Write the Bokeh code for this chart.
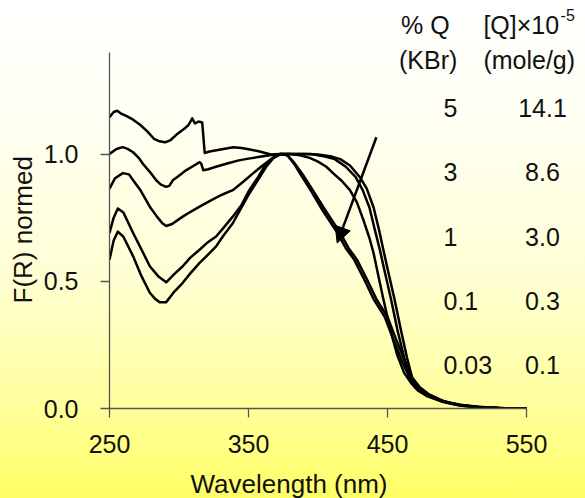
from bokeh.plotting import figure
from bokeh.models import (Range1d, FixedTicker, Label, Arrow, NormalHead, Title,
                          GlobalInlineStyleSheet, NumeralTickFormatter)
from bokeh.embed import file_html
from bokeh.resources import INLINE

# ---------------- data ----------------
wl_5 = [250, 253, 255.5, 258, 262, 267, 272, 277, 282, 286, 290, 294, 299, 304, 307, 309.5, 311.5, 314,
        316.7, 317.5, 318.5, 322, 328, 334, 339, 345, 351, 358, 366, 373, 380, 390, 400, 410, 416, 423,
        430, 435, 440, 444, 447, 450, 455, 460, 464, 468, 472, 478, 485, 495, 505, 520, 535, 550]
fr_5 = [1.145, 1.165, 1.17, 1.16, 1.15, 1.135, 1.115, 1.09, 1.06, 1.05, 1.046, 1.055, 1.08, 1.10, 1.115,
        1.14, 1.12, 1.128, 1.124, 1.07, 1.004, 1.01, 1.016, 1.022, 1.027, 1.024, 1.018, 1.01, 0.998, 1.0,
        1.0, 1.0, 0.998, 0.99, 0.98, 0.955, 0.91, 0.865, 0.79, 0.70, 0.624, 0.55, 0.43, 0.30, 0.20, 0.115,
        0.078, 0.055, 0.038, 0.022, 0.012, 0.004, 0.001, 0.0]

wl_3 = [250, 255, 259.6, 263, 267, 271, 274, 279, 283.6, 287, 290.8, 293, 295.6, 300, 305, 310, 314.8,
        316, 317.5, 321, 326, 334, 343, 350, 357, 365, 373, 380, 388, 395, 405, 412, 420, 427, 432, 437,
        441, 444.5, 447.5, 452.5, 457.5, 462, 466, 470, 478, 485, 495, 505, 520, 535, 550]
fr_3 = [1.0, 1.02, 1.027, 1.02, 1.007, 0.985, 0.962, 0.93, 0.897, 0.88, 0.871, 0.875, 0.897, 0.915, 0.936,
        0.952, 0.968, 0.962, 0.936, 0.94, 0.949, 0.962, 0.975, 0.982, 0.988, 0.995, 1.0, 1.0, 1.0, 1.0,
        0.99, 0.98, 0.95, 0.91, 0.86, 0.79, 0.70, 0.624, 0.55, 0.43, 0.30, 0.20, 0.12, 0.082, 0.055, 0.038,
        0.02, 0.01, 0.004, 0.001, 0.0]

wl_1 = [250, 254, 259.6, 264, 267, 272, 279, 284, 288, 290.8, 295, 302.7, 308, 314.8, 322, 330, 338.7,
        346, 353, 359, 365, 369, 373, 380, 387, 394, 400, 406, 411, 417, 423, 428, 432.7, 437, 440, 443.5,
        447, 452, 457, 462, 467, 472, 478, 490, 502, 515, 530, 550]
fr_1 = [0.864, 0.905, 0.925, 0.92, 0.897, 0.86, 0.793, 0.755, 0.728, 0.717, 0.725, 0.754, 0.772, 0.793,
        0.815, 0.838, 0.858, 0.89, 0.923, 0.95, 0.975, 0.99, 1.0, 1.0, 0.995, 0.985, 0.97, 0.95, 0.924,
        0.895, 0.858, 0.81, 0.74, 0.67, 0.61, 0.52, 0.43, 0.31, 0.21, 0.14, 0.10, 0.07, 0.05, 0.028, 0.015,
        0.007, 0.002, 0.0]

wl_01 = [250, 253, 256, 260, 267, 273, 279, 285, 290.8, 296, 302.7, 308, 314.8, 320, 326.7, 332, 338.7,
         345, 350.6, 357, 362.6, 368, 373, 378, 383, 389, 396, 404, 410, 416, 422, 428, 435, 442, 450,
         457, 463, 468, 473, 480, 490, 502, 515, 530, 550]
fr_01 = [0.69, 0.75, 0.786, 0.77, 0.69, 0.625, 0.559, 0.52, 0.496, 0.525, 0.559, 0.592, 0.624, 0.65,
         0.676, 0.71, 0.754, 0.80, 0.858, 0.91, 0.962, 0.985, 1.0, 0.995, 0.965, 0.92, 0.86, 0.79, 0.74,
         0.69, 0.63, 0.585, 0.51, 0.43, 0.36, 0.26, 0.18, 0.12, 0.085, 0.055, 0.03, 0.014, 0.006, 0.002, 0.0]

wl_003 = [250, 253, 256, 260, 267, 273, 279, 283, 286, 290.8, 296, 302.7, 308, 314.8, 320, 326.7, 332,
          338.7, 345, 350.6, 357, 362.6, 368, 373, 378, 383, 387, 395, 402, 408, 414, 420, 426, 433, 440,
          448, 455, 461, 466, 470, 478, 490, 502, 515, 530, 550]
fr_003 = [0.585, 0.66, 0.695, 0.675, 0.598, 0.52, 0.455, 0.43, 0.418, 0.418, 0.455, 0.494, 0.53, 0.572,
          0.60, 0.637, 0.68, 0.728, 0.79, 0.845, 0.90, 0.949, 0.985, 1.0, 0.995, 0.96, 0.924, 0.855, 0.79,
          0.74, 0.69, 0.63, 0.585, 0.51, 0.43, 0.36, 0.26, 0.18, 0.12, 0.085, 0.05, 0.025, 0.012, 0.006,
          0.002, 0.0]

x_ticks = [250, 350, 450, 550]
y_ticks = [0.0, 0.5, 1.0]
y_tick_labels = ["0.0", "0.5", "1.0"]
x_axis_span = (250, 550)
y_axis_span = (0.0, 1.4)

pct_q = ["5", "3", "1", "0.1", "0.03"]
conc_q = ["14.1", "8.6", "3.0", "0.3", "0.1"]
row_y = [1.182, 0.929, 0.674, 0.422, 0.169]

arrow_from = (442, 1.066)
arrow_to = (413.8, 0.65)

# ---------------- layout (pixels) ----------------
W, H = 585, 498
LEFT, BOTTOM = 109, 88          # frame extends to the right and top edges
AX_W, AX_H = 417, 358           # pixel length of the drawn axes
x_end = x_axis_span[0] + (W - LEFT) * (x_axis_span[1] - x_axis_span[0]) / AX_W
y_end = y_axis_span[0] + (H - BOTTOM) * (y_axis_span[1] - y_axis_span[0]) / AX_H

FONT = "Liberation Sans"
p = figure(width=W, height=H, x_range=Range1d(x_axis_span[0], x_end), y_range=Range1d(y_axis_span[0], y_end),
           output_backend="svg", toolbar_location=None,
           min_border_left=LEFT, min_border_right=0, min_border_top=0, min_border_bottom=BOTTOM)
p.background_fill_color = None
p.border_fill_color = None
p.outline_line_color = None
p.grid.visible = False
p.stylesheets = [GlobalInlineStyleSheet(css=(
    "html{height:100%;background:linear-gradient(to bottom,#ffffff 0%,#fffff2 25%,"
    "#ffffd4 55%,#ffffa0 80%,#ffff66 100%);}"
    "body{margin:0;padding:0;overflow:hidden;background:transparent;}"))]

for ax in (p.xaxis[0], p.yaxis[0]):
    ax.axis_line_color = "#555555"
    ax.axis_line_width = 1.3
    ax.major_tick_line_color = "#555555"
    ax.major_tick_line_width = 1.3
    ax.major_tick_out = 9
    ax.major_tick_in = 0
    ax.minor_tick_out = 0
    ax.minor_tick_in = 0
    ax.major_label_text_font = FONT
    ax.major_label_text_font_size = "25px"
    ax.major_label_text_color = "#111111"

p.xaxis.major_label_standoff = 17
p.yaxis.major_label_standoff = 22
p.xaxis.bounds = x_axis_span
p.yaxis.bounds = y_axis_span
p.xaxis.ticker = FixedTicker(ticks=x_ticks)
p.yaxis.ticker = FixedTicker(ticks=y_ticks)
p.yaxis.formatter = NumeralTickFormatter(format="0.0")
p.yaxis.major_label_overrides = {t: l for t, l in zip(y_ticks, y_tick_labels)}
# axis label is centred on the (taller) frame: non-breaking spaces re-centre it on the drawn axis
p.yaxis.axis_label = "F(R) normed" + "\u00a0" * 7
p.yaxis.axis_label_text_font = FONT
p.yaxis.axis_label_text_font_size = "26px"
p.yaxis.axis_label_text_font_style = "normal"
p.yaxis.axis_label_text_color = "#111111"
p.yaxis.axis_label_standoff = 3

# invisible spacer under the x tick labels, pushes the title panel a few pixels lower
p.xaxis.axis_label = "\u00a0"
p.xaxis.axis_label_text_font_size = "6px"
p.xaxis.axis_label_text_alpha = 0
p.xaxis.axis_label_standoff = 2

p.add_layout(Title(text="Wavelength (nm)", align="left", offset=81, text_font=FONT,
                   text_font_size="26px", text_font_style="normal", text_color="#111111",
                   standoff=0), "below")

for xs, ys in [(wl_5, fr_5), (wl_3, fr_3), (wl_1, fr_1), (wl_01, fr_01), (wl_003, fr_003)]:
    p.line(xs, ys, line_color="black", line_width=2.5, line_join="round")

p.add_layout(Arrow(end=NormalHead(size=16, fill_color="black", line_color="black", line_width=1),
                   x_start=arrow_from[0], y_start=arrow_from[1], x_end=arrow_to[0], y_end=arrow_to[1],
                   line_width=2.5, line_color="black"))


def lab(x, y, text, size="25px", align="left"):
    p.add_layout(Label(x=x, y=y, text=text, text_font=FONT, text_font_size=size,
                       text_color="#111111", text_align=align, text_baseline="alphabetic"))


lab(459.7, 1.507, "% Q")
lab(458.3, 1.371, "(KBr)")
lab(519.0, 1.507, "[Q]\u00d710")
lab(574.5, 1.548, "-5", size="16px")
lab(519.0, 1.371, "(mole/g)")
for a, b, y in zip(pct_q, conc_q, row_y):
    lab(490.3, y, a)
    lab(561.5, y, b, align="center")

open("out.html", "w").write(file_html(p, INLINE))
